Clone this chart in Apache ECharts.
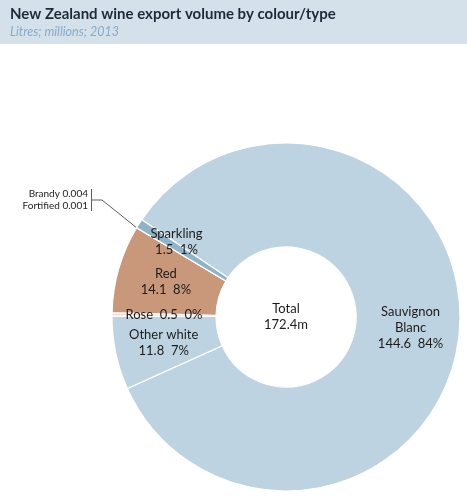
<!DOCTYPE html>
<html>
<head>
<meta charset="utf-8">
<script src="https://cdn.jsdelivr.net/npm/echarts@6/dist/echarts.min.js"></script>
<style>
  html, body { margin: 0; padding: 0; background: #ffffff; }
  #main { width: 467px; height: 497px; }
</style>
</head>
<body>
<div id="main"></div>
<script>
// export volume, litres (millions), 2013
var categories = ['Sauvignon Blanc', 'Other white', 'Rose', 'Red', 'Brandy', 'Fortified', 'Sparkling'];
var volumes = [144.6, 11.8, 0.5, 14.1, 0.004, 0.001, 1.5];
var volumeText = ['144.6', '11.8', '0.5', '14.1', '0.004', '0.001', '1.5'];
var sliceColors = ['#bed3e1', '#bed3e1', '#f3dfd2', '#c9977a', '#bed3e1', '#bed3e1', '#8fb3c9'];
var totalText = '172.4m';

var chart = echarts.init(document.getElementById('main'), null, { renderer: 'canvas' });

var FONT = 'Lato, "Open Sans", sans-serif';

var seriesData = categories.map(function (name, i) {
  var item = {
    name: name,
    value: volumes[i],
    itemStyle: { color: sliceColors[i] }
  };
  if (name === 'Brandy') {
    // the two tiny slices share one callout
    item.label = {
      show: true,
      position: 'outside',
      formatter: categories[4] + ' ' + volumeText[4] + '\n' + categories[5] + ' ' + volumeText[5],
      fontSize: 10,
      lineHeight: 12,
      align: 'right',
      color: '#1c1c1c',
      padding: [0, 4, 0, 0]
    };
    item.labelLine = {
      show: true,
      length: 10,
      length2: 10,
      lineStyle: { color: '#333333', width: 0.8 }
    };
  } else if (name === 'Fortified') {
    item.label = { show: false };
  }
  return item;
});

var option = {
  backgroundColor: '#ffffff',
  animation: false,
  graphic: [{
    type: 'rect',
    shape: { x: 0, y: 0, width: 467, height: 44 },
    style: { fill: '#d4e1ea' },
    z: -10
  }, {
    type: 'line',
    shape: { x1: 91.5, y1: 189, x2: 91.5, y2: 211 },
    style: { stroke: '#333333', lineWidth: 0.8 }
  }],
  title: [{
    text: 'New Zealand wine export volume by colour/type',
    subtext: 'Litres; millions; 2013',
    left: 10,
    top: 7,
    padding: 0,
    itemGap: 3,
    textStyle: { fontFamily: FONT, fontSize: 15, fontWeight: 'bold', color: '#1e2a38' },
    subtextStyle: { fontFamily: FONT, fontSize: 12.5, fontStyle: 'italic', color: '#86aacb' }
  }, {
    text: 'Total\n' + totalText,
    left: 286,
    top: 301,
    textAlign: 'center',
    padding: 0,
    textStyle: { fontFamily: FONT, fontSize: 13, fontWeight: 'normal', color: '#1c1c1c', lineHeight: 16 }
  }],
  series: [{
    type: 'pie',
    center: [286, 317],
    radius: [70, 174],
    startAngle: 146,
    clockwise: true,
    avoidLabelOverlap: false,
    itemStyle: { borderColor: '#ffffff', borderWidth: 1.2 },
    label: {
      show: true,
      position: 'inside',
      fontFamily: FONT,
      fontSize: 13,
      lineHeight: 16,
      color: '#1c1c1c',
      formatter: function (p) {
        var nm = p.name === 'Sauvignon Blanc' ? 'Sauvignon\nBlanc' : p.name;
        var txt = volumeText[p.dataIndex] + '  ' + Math.round(p.percent) + '%';
        if (p.name === 'Rose') return nm + '  ' + txt;
        return nm + '\n' + txt;
      }
    },
    labelLine: { show: false },
    emphasis: { disabled: true },
    labelLayout: function (params) {
      var nm = categories[params.dataIndex];
      if (nm === 'Brandy') {
        return { x: 92, y: 200, align: 'right', verticalAlign: 'middle' };
      }
      if (nm === 'Sparkling') {
        return { dx: -4, dy: -8 };
      }
      if (nm === 'Rose') {
        return { dx: 3 };
      }
      return {};
    },
    data: seriesData
  }]
};

chart.setOption(option);
</script>
</body>
</html>
